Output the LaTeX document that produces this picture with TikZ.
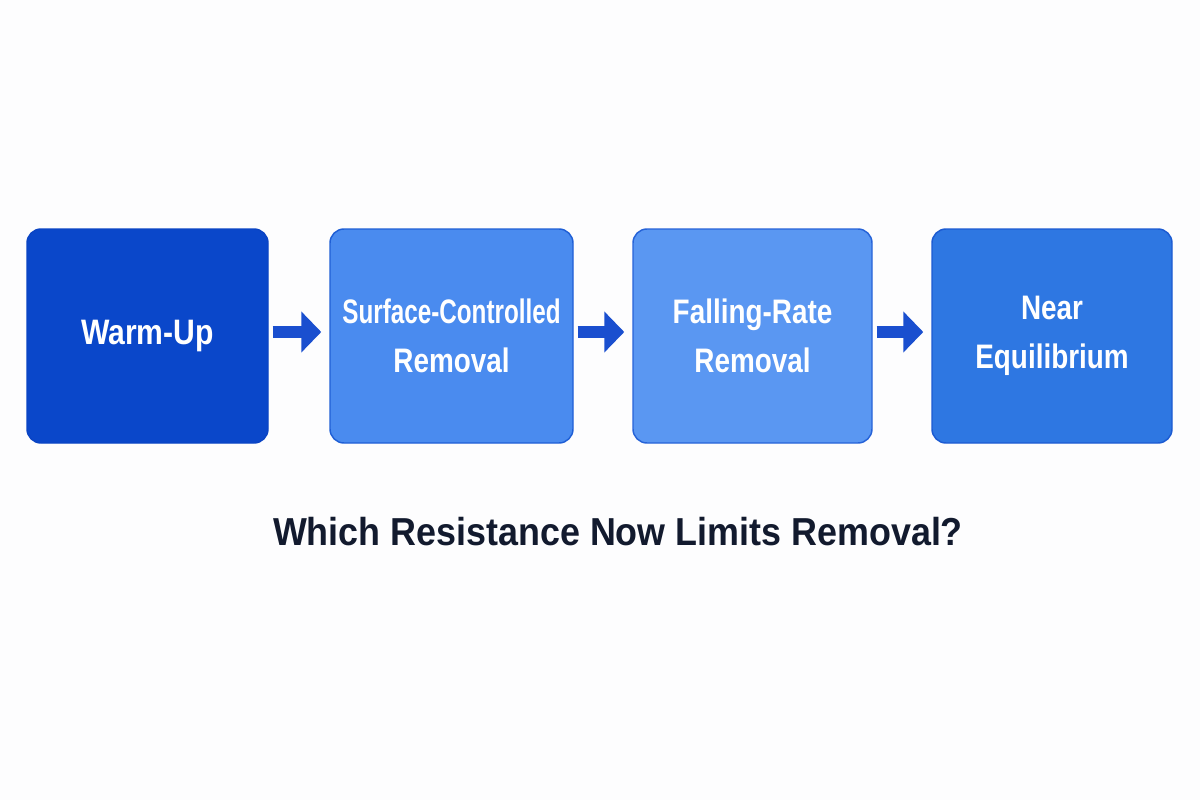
\documentclass[tikz,border=0pt]{standalone}
\usepackage{graphicx}
\usepackage{fontspec}
\setmainfont{Liberation Sans}
\newfontfamily\boxfont{Liberation Sans}[FakeStretch=0.82]
\newfontfamily\titlefont{Liberation Sans}[FakeStretch=0.92]
\usetikzlibrary{arrows.meta}
\definecolor{bgwhite}{HTML}{FDFDFE}
\definecolor{stageA}{HTML}{0A47CA}
\definecolor{stageAline}{HTML}{0A44C4}
\definecolor{stageB}{HTML}{4A8BEF}
\definecolor{stageBline}{HTML}{1F5FD6}
\definecolor{stageC}{HTML}{5A97F2}
\definecolor{stageCline}{HTML}{2663D8}
\definecolor{stageD}{HTML}{2E77E2}
\definecolor{stageDline}{HTML}{1C5BD2}
\definecolor{arrowblue}{HTML}{1A4FCF}
\definecolor{titlenavy}{HTML}{121A2E}
\tikzset{
  stagebox/.style={rounded corners=10.5pt, minimum height=160.5pt, align=center,
    text=white, inner sep=0pt, line width=1.1pt,
    font=\boxfont\bfseries\fontsize{25.5}{36.75}\selectfont},
  flowarrow/.style={draw=arrowblue, line width=9pt, -{Triangle[length=15pt,width=30pt]},
    shorten <=3pt, shorten >=6pt},
  titletext/.style={text=titlenavy, inner sep=0pt,
    font=\titlefont\bfseries\fontsize{29.25}{35}\selectfont}
}
\begin{document}
\begin{tikzpicture}[x=0.75pt,y=-0.75pt]
\useasboundingbox (0,0) rectangle (1200,800);
\fill[bgwhite] (0,0) rectangle (1200,800);

\node[stagebox, fill=stageA, draw=stageAline, minimum width=180.75pt] (b1) at (147.5,336) {\scalebox{1.08}[1.04]{Warm-Up}};
\node[stagebox, fill=stageB, draw=stageBline, minimum width=182.25pt] (b2) at (451.5,336) {\scalebox{0.87}[1]{Surface-Controlled}\\Removal};
\node[stagebox, fill=stageC, draw=stageCline, minimum width=179.25pt] (b3) at (752.5,336) {Falling-Rate\\Removal};
\node[stagebox, fill=stageD, draw=stageDline, minimum width=180pt] (b4) at (1052,336) {Near\\Equilibrium};

\draw[flowarrow] ([yshift=3pt]b1.east) -- ([yshift=3pt]b2.west);
\draw[flowarrow] ([yshift=3pt]b2.east) -- ([yshift=3pt]b3.west);
\draw[flowarrow] ([yshift=3pt]b3.east) -- ([yshift=3pt]b4.west);

\node[titletext, anchor=base] (title) at (618,545) {Which Resistance Now Limits Removal?};
\end{tikzpicture}
\end{document}
